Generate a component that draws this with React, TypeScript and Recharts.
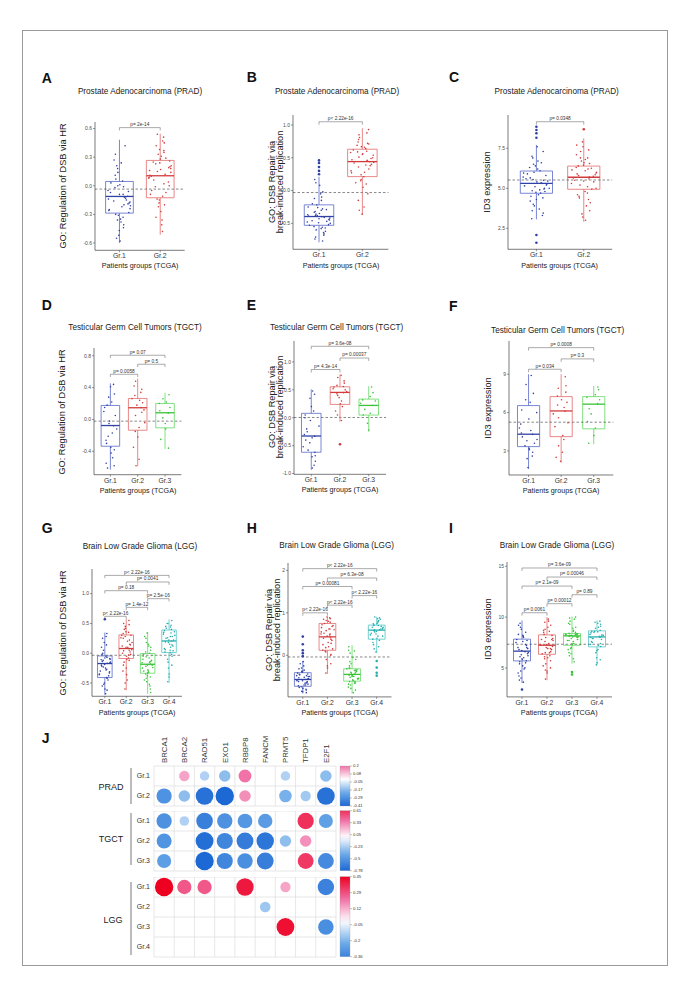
import React from 'react';
import { ComposedChart, Scatter, XAxis, YAxis, ReferenceArea, ReferenceLine } from 'recharts';

const FONT = '"Liberation Sans", Arial, Helvetica, sans-serif';

// ---------- shared labels ----------
const GROUP_LABELS = ['Gr.1', 'Gr.2', 'Gr.3', 'Gr.4'];
const X_TITLE = 'Patients groups (TCGA)';
const TITLE_PRAD = 'Prostate Adenocarcinoma (PRAD)';
const TITLE_TGCT = 'Testicular Germ Cell Tumors (TGCT)';
const TITLE_LGG = 'Brain Low Grade Glioma (LGG)';
const YT_HR = ['GO: Regulation of DSB via HR'];
const YT_BIR = ['GO: DSB Repair via', 'break-induced replication'];
const YT_ID3 = ['ID3 expression'];

// box stats per group: [lower whisker, Q1, median, Q3, upper whisker]
// ---------- A: PRAD / HR ----------
const A_TICKS = [-0.6, -0.3, 0, 0.3, 0.6];
const A_TICK_LABELS = ['-0.6', '-0.3', '0.0', '0.3', '0.6'];
const A_STATS = [[-0.6, -0.287, -0.112, 0.045, 0.483], [-0.514, -0.126, 0.105, 0.266, 0.546]];
const A_GR1 = [-0.12, 0.03, -0.35, -0.21, 0.18, -0.05, -0.44, -0.16, 0.01, -0.28, 0.11, -0.09, -0.52, -0.24, 0.27, -0.13, -0.02, -0.38, 0.07, -0.19, -0.31, 0.42, -0.07, -0.58, -0.15, 0.21, -0.26, -0.01, -0.47, -0.11, 0.33, -0.22, -0.18, -0.36, 0.05, -0.25, -0.09, -0.41, 0.14, -0.2, -0.06, -0.3, 0.24, -0.14, -0.33, 0.0, -0.17, -0.55];
const A_GR2 = [0.12, -0.05, 0.31, 0.21, -0.22, 0.08, 0.45, -0.14, 0.17, 0.26, -0.33, 0.02, 0.38, 0.14, -0.09, 0.51, 0.23, -0.41, 0.06, 0.19, -0.18, 0.29, 0.1, -0.27, 0.35, -0.01, 0.16, -0.48, 0.24, 0.04, 0.42, -0.11, 0.2, 0.33, -0.07, 0.11, 0.28, -0.2, 0.15, 0.47, 0.0, 0.25, -0.36, 0.09, 0.37, -0.15, 0.18, 0.54];
const A_OUT = [[], []];
const A_REF = -0.035;
const A_BRACKETS = [[1, 2, 0.61]];
const A_PVALS = ['p= 2e-14'];

// ---------- B: PRAD / BIR ----------
const B_TICKS = [-0.5, 0, 0.5, 1.0];
const B_TICK_LABELS = ['-0.5', '0.0', '0.5', '1.0'];
const B_STATS = [[-0.79, -0.53, -0.396, -0.218, 0.21], [-0.37, 0.213, 0.442, 0.631, 0.95]];
const B_GR1 = [-0.41, -0.55, -0.3, -0.62, -0.38, -0.2, -0.47, -0.71, -0.35, -0.44, -0.12, -0.58, -0.26, -0.5, -0.39, -0.77, -0.33, -0.05, -0.46, -0.66, -0.22, -0.42, -0.53, 0.08, -0.29, -0.6, -0.37, -0.15, -0.49, -0.68, 0.17, -0.4, -0.45, -0.32, -0.56, -0.25, -0.43, -0.64, -0.36, -0.1, -0.52, -0.74, -0.28, -0.48, -0.02, -0.38, -0.57, 0.12];
const B_GR2 = [0.45, 0.62, 0.28, 0.71, 0.51, 0.12, 0.38, 0.85, 0.56, -0.05, 0.42, 0.66, 0.24, 0.93, 0.47, 0.33, 0.59, -0.25, 0.78, 0.4, 0.17, 0.54, 0.69, 0.05, 0.44, 0.81, 0.3, 0.6, -0.36, 0.49, 0.74, 0.21, 0.5, 0.36, 0.64, 0.27, 0.55, 0.88, 0.15, 0.46, 0.72, -0.15, 0.39, 0.58, 0.1, 0.67, 0.43, -0.3];
const B_OUT = [[0.25, 0.3, 0.36, 0.42, 0.46], []];
const B_REF = -0.03;
const B_BRACKETS = [[1, 2, 1.05]];
const B_PVALS = ['p< 2.22e-16'];

// ---------- C: PRAD / ID3 ----------
const C_TICKS = [2.5, 5.0, 7.5];
const C_TICK_LABELS = ['2.5', '5.0', '7.5'];
const C_STATS = [[3.06, 4.69, 5.31, 6.08, 7.71], [2.91, 4.94, 5.69, 6.39, 8.12]];
const C_GR1 = [5.3, 4.5, 6.2, 5.0, 3.9, 5.7, 4.8, 6.9, 5.4, 3.3, 5.9, 4.7, 5.1, 7.3, 4.2, 5.5, 6.5, 4.9, 3.6, 5.2, 6.0, 4.4, 5.6, 7.6, 5.0, 4.0, 6.3, 5.35, 4.75, 5.8, 3.1, 6.7, 5.45, 4.85, 6.1, 5.15, 4.3, 6.6, 5.55, 3.7, 5.25, 7.0, 4.6, 5.95, 4.95, 6.4, 3.45, 5.65];
const C_GR2 = [5.7, 6.4, 4.8, 6.0, 5.2, 7.1, 4.3, 5.9, 6.6, 3.6, 5.5, 6.2, 7.6, 5.0, 4.6, 6.9, 5.8, 3.0, 6.3, 5.4, 7.9, 4.1, 5.65, 6.1, 4.95, 7.3, 5.3, 3.9, 6.45, 5.75, 4.5, 6.8, 5.85, 6.7, 4.7, 6.15, 5.45, 7.4, 3.4, 5.6, 6.55, 4.4, 5.1, 7.7, 6.25, 3.2, 5.95, 6.9];
const C_OUT = [[8.85, 8.64, 8.44, 8.16, 2.08, 1.6], [8.69]];
const C_REF = 5.52;
const C_BRACKETS = [[1, 2, 9.16]];
const C_PVALS = ['p= 0.0348'];

// ---------- D: TGCT / HR ----------
const D_TICKS = [-0.4, 0, 0.4, 0.8];
const D_TICK_LABELS = ['-0.4', '0.0', '0.4', '0.8'];
const D_STATS = [[-0.63, -0.336, -0.076, 0.176, 0.453], [-0.588, -0.135, 0.147, 0.264, 0.512], [-0.37, -0.105, 0.084, 0.201, 0.336]];
const D_GR1 = [-0.08, 0.15, -0.42, 0.32, -0.21, -0.55, 0.05, -0.3, 0.41, -0.12, -0.61, 0.22, -0.02, -0.38, 0.1, -0.48, 0.28, -0.17, -0.26, 0.44, -0.05, -0.58, 0.18, -0.35];
const D_GR2 = [0.15, 0.26, -0.1, 0.38, 0.05, -0.35, 0.21, 0.48, -0.22, 0.12, 0.3, -0.5, 0.18, -0.04, 0.42, 0.09, -0.58, 0.24, -0.15, 0.34];
const D_GR3 = [0.08, 0.2, -0.12, 0.31, 0.02, -0.25, 0.15, 0.26, -0.05, -0.36, 0.11, 0.22];
const D_OUT = [[], [], []];
const D_REF = -0.021;
const D_BRACKETS = [[1, 2, 0.567], [2, 3, 0.693], [1, 3, 0.806]];
const D_PVALS = ['p= 0.0058', 'p= 0.5', 'p= 0.07'];

// ---------- E: TGCT / BIR ----------
const E_TICKS = [-1.0, -0.5, 0, 0.5, 1.0];
const E_TICK_LABELS = ['-1.0', '-0.5', '0.0', '0.5', '1.0'];
const E_STATS = [[-0.934, -0.618, -0.327, 0.079, 0.507], [-0.071, 0.239, 0.454, 0.554, 0.775], [-0.25, 0.048, 0.221, 0.334, 0.566]];
const E_GR1 = [-0.33, 0.05, -0.7, -0.15, 0.35, -0.52, -0.85, -0.25, 0.2, -0.62, -0.4, 0.48, -0.05, -0.78, -0.3, 0.12, -0.58, -0.9, -0.2, 0.42, -0.45, -0.68, 0.0, -0.36];
const E_GR2 = [0.45, 0.55, 0.3, 0.62, 0.4, 0.12, 0.5, 0.72, 0.25, 0.47, 0.58, -0.05, 0.36, 0.66, 0.52, 0.2, 0.43, 0.76, 0.05, 0.56];
const E_GR3 = [0.22, 0.32, 0.08, 0.45, -0.1, 0.26, 0.55, 0.15, -0.22, 0.3, 0.05, 0.38];
const E_OUT = [[], [-0.475], []];
const E_REF = 0.005;
const E_BRACKETS = [[1, 2, 0.864], [2, 3, 1.07], [1, 3, 1.28]];
const E_PVALS = ['p= 4.3e-14', 'p= 0.00037', 'p= 3.6e-08'];

// ---------- F: TGCT / ID3 ----------
const F_TICKS = [3, 6, 9];
const F_TICK_LABELS = ['3', '6', '9'];
const F_STATS = [[1.59, 3.34, 4.31, 6.55, 9.0], [2.08, 4.12, 6.13, 7.25, 9.0], [3.52, 4.73, 6.66, 7.25, 8.09]];
const F_GR1 = [4.3, 6.2, 3.1, 7.5, 2.4, 4.8, 3.6, 8.2, 5.5, 2.9, 4.1, 6.8, 1.7, 3.9, 5.1, 8.9, 3.4, 4.6, 7.0, 2.6, 3.8, 6.0, 4.4, 3.2];
const F_GR2 = [6.1, 7.3, 4.2, 8.1, 5.6, 2.5, 6.8, 3.4, 7.0, 8.8, 4.9, 6.4, 2.2, 7.6, 5.9, 3.9, 6.6, 2.9, 7.9, 5.2];
const F_GR3 = [6.7, 7.2, 4.8, 7.8, 5.9, 3.6, 7.0, 6.3, 4.2, 8.0, 5.3, 7.4];
const F_OUT = [[], [], []];
const F_REF = 5.25;
const F_BRACKETS = [[1, 2, 9.39], [2, 3, 10.2], [1, 3, 11.08]];
const F_PVALS = ['p= 0.034', 'p= 0.3', 'p= 0.0008'];

// ---------- G: LGG / HR ----------
const G_TICKS = [-0.5, 0, 0.5, 1.0];
const G_TICK_LABELS = ['-0.5', '0.0', '0.5', '1.0'];
const G_STATS = [[-0.7, -0.408, -0.173, -0.045, 0.347], [-0.62, -0.089, 0.079, 0.307, 0.57], [-0.68, -0.336, -0.185, -0.005, 0.358], [-0.5, 0.011, 0.206, 0.39, 0.57]];
const G_GR1 = [-0.17, -0.3, -0.05, -0.45, -0.12, 0.1, -0.38, -0.22, -0.6, -0.09, 0.25, -0.27, -0.5, -0.15, -0.02, -0.41, 0.05, -0.68, -0.2, -0.33, 0.18, -0.1, -0.55, -0.25, 0.33, -0.14, -0.36, -0.07, -0.19, -0.42, 0.0, -0.28, -0.16, -0.52, 0.14, -0.35, -0.08, -0.62, -0.23, 0.28, -0.31, -0.11];
const G_GR2 = [0.08, 0.3, -0.1, 0.18, 0.45, -0.3, 0.02, 0.25, -0.05, 0.55, 0.12, -0.45, 0.36, 0.06, -0.2, 0.22, -0.6, 0.1, 0.4, -0.02, 0.28, -0.12, 0.5, -0.36, 0.15, 0.04, 0.33, -0.08, 0.1, 0.35, -0.15, 0.2, 0.48, -0.5, 0.05, 0.26, -0.25, 0.14, 0.42, -0.03, 0.3, 0.0];
const G_GR3 = [-0.18, -0.05, -0.32, 0.1, -0.22, -0.45, -0.12, 0.25, -0.28, -0.6, -0.02, -0.15, -0.38, 0.05, -0.25, -0.52, 0.18, -0.08, -0.35, -0.2, 0.34, -0.66, -0.1, -0.3, 0.0, -0.42, -0.16, 0.12, -0.2, -0.04, -0.3, 0.15, -0.24, -0.48, -0.14, 0.28, -0.33, -0.55, -0.06, -0.19, -0.4, 0.02];
const G_GR4 = [0.2, 0.38, 0.05, 0.3, -0.15, 0.45, 0.12, 0.25, -0.35, 0.55, 0.02, 0.34, 0.18, -0.05, 0.42, 0.28, -0.48, 0.1, 0.5, 0.22, -0.25, 0.36, 0.08, 0.15, 0.47, -0.1, 0.32, 0.01, 0.22, 0.4, 0.06, 0.28, -0.2, 0.5, 0.14, 0.35, -0.4, 0.04, 0.26, 0.44, -0.02, 0.19];
const G_OUT = [[0.57], [], [], []];
const G_REF = -0.034;
const G_BRACKETS = [[1, 2, 0.62], [2, 3, 0.77], [3, 4, 0.916], [1, 3, 1.05], [2, 4, 1.196], [1, 4, 1.307]];
const G_PVALS = ['p< 2.22e-16', 'p= 1.4e-12', 'p= 2.5e-16', 'p= 0.18', 'p= 0.0041', 'p< 2.22e-16'];

// ---------- H: LGG / BIR ----------
const H_TICKS = [0, 1, 2];
const H_TICK_LABELS = ['0', '1', '2'];
const H_STATS = [[-0.9, -0.73, -0.57, -0.41, -0.135], [-0.436, 0.118, 0.434, 0.749, 0.907], [-0.9, -0.609, -0.45, -0.318, 0.237], [0.062, 0.379, 0.592, 0.711, 0.907]];
const H_GR1 = [-0.57, -0.42, -0.7, -0.5, -0.85, -0.32, -0.62, -0.45, -0.78, -0.55, -0.2, -0.66, -0.38, -0.88, -0.6, -0.48, -0.74, -0.25, -0.53, -0.68, -0.4, -0.82, -0.58, -0.15, -0.64, -0.46, -0.76, -0.35, -0.6, -0.44, -0.72, -0.52, -0.8, -0.3, -0.65, -0.48, -0.86, -0.56, -0.38, -0.7, -0.5, -0.62];
const H_GR2 = [0.43, 0.75, 0.2, 0.6, -0.1, 0.85, 0.35, 0.52, -0.3, 0.7, 0.12, 0.48, 0.9, 0.02, 0.65, 0.28, -0.42, 0.8, 0.4, 0.15, 0.58, -0.2, 0.72, 0.3, 0.88, 0.08, 0.5, 0.62, 0.45, 0.78, 0.25, 0.62, 0.0, 0.82, 0.38, 0.55, -0.25, 0.68, 0.18, 0.5, 0.86, 0.1];
const H_GR3 = [-0.45, -0.32, -0.6, -0.1, -0.52, -0.75, -0.38, 0.05, -0.48, -0.65, -0.25, -0.88, -0.42, -0.55, 0.2, -0.35, -0.7, -0.5, -0.15, -0.62, -0.4, -0.82, -0.3, -0.58, 0.1, -0.47, -0.68, -0.36, -0.46, -0.34, -0.62, -0.05, -0.54, -0.78, -0.4, 0.12, -0.5, -0.66, -0.2, -0.44, -0.56, -0.3];
const H_GR4 = [0.6, 0.72, 0.45, 0.85, 0.55, 0.3, 0.68, 0.9, 0.4, 0.62, 0.15, 0.78, 0.5, 0.66, 0.25, 0.82, 0.58, 0.7, 0.38, 0.88, 0.08, 0.64, 0.52, 0.75, 0.62, 0.7, 0.48, 0.8, 0.56, 0.35, 0.66, 0.86, 0.45, 0.6, 0.2, 0.74];
const H_OUT = [[0.44, 0.26, 0.12, 0.05, -0.02], [], [], [-0.135, -0.29, -0.41, -0.48]];
const H_REF = -0.04;
const H_BRACKETS = [[1, 2, 1.0], [2, 3, 1.18], [3, 4, 1.405], [1, 3, 1.62], [2, 4, 1.82], [1, 4, 2.04]];
const H_PVALS = ['p< 2.22e-16', 'p< 2.22e-16', 'p< 2.22e-16', 'p= 0.00081', 'p= 6.3e-08', 'p< 2.22e-16'];

// ---------- I: LGG / ID3 ----------
const I_TICKS = [5, 10, 15];
const I_TICK_LABELS = ['5', '10', '15'];
const I_STATS = [[3.52, 5.69, 6.65, 7.83, 9.67], [3.79, 6.34, 7.23, 8.25, 10.0], [5.43, 7.23, 8.15, 8.38, 10.07], [5.26, 7.07, 8.05, 8.65, 9.67]];
const I_GR1 = [6.6, 7.8, 5.2, 8.5, 6.1, 4.5, 7.2, 9.4, 5.8, 6.9, 3.8, 8.1, 6.3, 5.5, 7.5, 4.9, 9.0, 6.0, 7.0, 5.0, 8.8, 6.5, 4.2, 7.6, 5.7, 6.8, 8.3, 3.6, 6.7, 7.7, 5.4, 8.2, 6.2, 4.7, 7.3, 9.2, 5.9, 7.0, 4.0, 8.0, 6.4, 5.6];
const I_GR2 = [7.2, 8.3, 6.0, 9.2, 7.6, 5.2, 6.8, 8.8, 4.5, 7.9, 6.4, 9.8, 7.0, 5.7, 8.5, 6.6, 3.9, 7.4, 9.5, 6.2, 8.0, 5.0, 7.8, 6.9, 8.6, 4.8, 7.3, 6.5, 7.3, 8.2, 6.1, 9.0, 7.7, 5.4, 6.9, 8.7, 4.7, 7.8, 6.5, 9.6, 7.1, 5.9];
const I_GR3 = [8.15, 8.4, 7.6, 9.0, 8.2, 6.8, 8.3, 9.6, 7.3, 8.0, 6.2, 8.6, 7.9, 10.0, 8.25, 5.6, 8.1, 7.4, 9.3, 8.35, 7.0, 8.5, 6.5, 8.05, 9.8, 7.7, 8.3, 5.9, 8.2, 8.35, 7.7, 8.9, 8.1, 6.9, 8.3, 9.4, 7.4, 8.05, 6.4, 8.7, 7.8, 9.9];
const I_GR4 = [8.0, 8.6, 7.2, 9.1, 6.5, 8.3, 7.8, 9.5, 5.5, 8.7, 7.5, 8.1, 6.0, 9.3, 8.45, 7.1, 8.9, 6.8, 7.9, 9.6, 5.3, 8.2, 7.6, 8.55, 8.1, 8.5, 7.3, 9.0, 6.7, 8.25, 7.9, 9.4, 5.8, 8.6, 7.4, 8.0];
const I_OUT = [[2.87], [], [4.6, 4.35], []];
const I_REF = 7.33;
const I_BRACKETS = [[1, 2, 10.43], [2, 3, 11.32], [3, 4, 12.2], [1, 3, 13.05], [2, 4, 13.94], [1, 4, 14.83]];
const I_PVALS = ['p= 0.0061', 'p= 0.00012', 'p= 0.89', 'p= 2.1e-09', 'p= 0.00046', 'p= 3.6e-09'];

// ---------- J: correlation matrix ----------
const GENES = ['BRCA1', 'BRCA2', 'RAD51', 'EXO1', 'RBBP8', 'FANCM', 'PRMT5', 'TFDP1', 'E2F1'];
const PRAD_CORR = [
  [null, 0.13, -0.11, -0.16, 0.2, null, -0.11, null, -0.16],
  [-0.28, -0.16, -0.38, -0.41, 0.16, null, -0.19, -0.13, -0.38],
];
const TGCT_CORR = [
  [-0.54, -0.21, -0.64, -0.54, -0.5, -0.48, null, 0.61, -0.45],
  [-0.52, null, -0.74, -0.6, -0.66, -0.7, -0.3, 0.3, null],
  [-0.46, null, -0.78, -0.6, -0.55, -0.65, null, 0.58, -0.58],
];
const LGG_CORR = [
  [0.45, 0.27, 0.27, null, 0.4, null, 0.14, null, -0.36],
  [null, null, null, null, null, -0.15, null, null, null],
  [null, null, null, null, null, null, 0.42, null, -0.32],
  [null, null, null, null, null, null, null, null, null],
];
const PRAD_CB = ['0.2', '0.08', '-0.05', '-0.17', '-0.29', '-0.41'];
const TGCT_CB = ['0.61', '0.33', '0.05', '-0.23', '-0.5', '-0.78'];
const LGG_CB = ['0.45', '0.29', '0.12', '-0.05', '-0.2', '-0.36'];

// ---------- styling ----------
const DOT = ['#3041A6', '#D23B3B', '#38C338', '#27AEAE'];
const BOXC = ['#5868C8', '#E26A6A', '#62D862', '#52C6C6'];
const JITTER = [0.12, -0.21, 0.05, 0.27, -0.08, -0.28, 0.18, -0.14, 0.01, 0.23, -0.19, 0.09, -0.03, 0.26, -0.24, 0.15, -0.11, 0.07, -0.16, 0.21, -0.05, 0.25, -0.22, 0.03, 0.17, -0.12, -0.26, 0.1, -0.01, 0.2, -0.18, 0.06, 0.24, -0.09, 0.14, -0.25, 0.0, 0.19, -0.07, 0.11, 0.22, -0.17, 0.08, -0.27, 0.16, -0.04, 0.26, -0.13, 0.02, -0.2];

const PANELS = [
  { letter: 'A', title: TITLE_PRAD, yTitle: YT_HR, stats: A_STATS, points: [A_GR1, A_GR2], out: A_OUT, ref: A_REF, brackets: A_BRACKETS, pvals: A_PVALS, ticks: A_TICKS, tickLabels: A_TICK_LABELS, domain: [-0.677, 0.669],
    lay: { l: 95.3, r: 185, t: 121.7, b: 250, lx: 41.7, ly: 78, tx: 140, ty: 91.7, yx: 63.3 } },
  { letter: 'B', title: TITLE_PRAD, yTitle: YT_BIR, stats: B_STATS, points: [B_GR1, B_GR2], out: B_OUT, ref: B_REF, brackets: B_BRACKETS, pvals: B_PVALS, ticks: B_TICKS, tickLabels: B_TICK_LABELS, domain: [-0.896, 1.153],
    lay: { l: 293.3, r: 388.7, t: 115, b: 249.3, lx: 246.7, ly: 77, tx: 337, ty: 91.7, yx: 275.5 } },
  { letter: 'C', title: TITLE_PRAD, yTitle: YT_ID3, stats: C_STATS, points: [C_GR1, C_GR2], out: C_OUT, ref: C_REF, brackets: C_BRACKETS, pvals: C_PVALS, ticks: C_TICKS, tickLabels: C_TICK_LABELS, domain: [1.19, 9.58],
    lay: { l: 507.5, r: 611.7, t: 115, b: 249.3, lx: 449, ly: 77, tx: 556.7, ty: 91.7, yx: 487.3 } },
  { letter: 'D', title: TITLE_TGCT, yTitle: YT_HR, stats: D_STATS, points: [D_GR1, D_GR2, D_GR3], out: D_OUT, ref: D_REF, brackets: D_BRACKETS, pvals: D_PVALS, ticks: D_TICKS, tickLabels: D_TICK_LABELS, domain: [-0.693, 0.897],
    lay: { l: 94.3, r: 181.7, t: 348.3, b: 475, lx: 41.7, ly: 305, tx: 135, ty: 328, yx: 61.7 } },
  { letter: 'E', title: TITLE_TGCT, yTitle: YT_BIR, stats: E_STATS, points: [E_GR1, E_GR2, E_GR3], out: E_OUT, ref: E_REF, brackets: E_BRACKETS, pvals: E_PVALS, ticks: E_TICKS, tickLabels: E_TICK_LABELS, domain: [-1.013, 1.375],
    lay: { l: 294, r: 386, t: 340.7, b: 474, lx: 246.7, ly: 305, tx: 336.7, ty: 328.3, yx: 276 } },
  { letter: 'F', title: TITLE_TGCT, yTitle: YT_ID3, stats: F_STATS, points: [F_GR1, F_GR2, F_GR3], out: F_OUT, ref: F_REF, brackets: F_BRACKETS, pvals: F_PVALS, ticks: F_TICKS, tickLabels: F_TICK_LABELS, domain: [1.12, 11.6],
    lay: { l: 509, r: 613.3, t: 341, b: 475, lx: 449, ly: 306, tx: 557.7, ty: 331, yx: 488.3 } },
  { letter: 'G', title: TITLE_LGG, yTitle: YT_HR, stats: G_STATS, points: [G_GR1, G_GR2, G_GR3, G_GR4], out: G_OUT, ref: G_REF, brackets: G_BRACKETS, pvals: G_PVALS, ticks: G_TICKS, tickLabels: G_TICK_LABELS, domain: [-0.723, 1.414],
    lay: { l: 92.2, r: 182.1, t: 569.3, b: 696.6, lx: 41.7, ly: 528, tx: 140, ty: 546.7, yx: 63.3 } },
  { letter: 'H', title: TITLE_LGG, yTitle: YT_BIR, stats: H_STATS, points: [H_GR1, H_GR2, H_GR3, H_GR4], out: H_OUT, ref: H_REF, brackets: H_BRACKETS, pvals: H_PVALS, ticks: H_TICKS, tickLabels: H_TICK_LABELS, domain: [-0.98, 2.173],
    lay: { l: 288, r: 391.5, t: 562.7, b: 696.6, lx: 246.7, ly: 528, tx: 336.7, ty: 546, yx: 272.7 } },
  { letter: 'I', title: TITLE_LGG, yTitle: YT_ID3, stats: I_STATS, points: [I_GR1, I_GR2, I_GR3, I_GR4], out: I_OUT, ref: I_REF, brackets: I_BRACKETS, pvals: I_PVALS, ticks: I_TICKS, tickLabels: I_TICK_LABELS, domain: [2.15, 15.42],
    lay: { l: 506.7, r: 611.7, t: 561.7, b: 696.6, lx: 449, ly: 528, tx: 557, ty: 546, yx: 488.3 } },
];

function tickFmt(ticks, labels) {
  return (v) => {
    const i = ticks.findIndex((t) => Math.abs(t - v) < 1e-9);
    return i >= 0 ? labels[i] : '';
  };
}

function Txt({ x, y, size, children, bold, rotate, lines, lh }) {
  return (
    <div
      style={{
        position: 'absolute', left: x, top: y, fontSize: size, fontWeight: bold ? 'bold' : 'normal',
        lineHeight: lh ? `${lh}px` : '1', whiteSpace: 'nowrap', textAlign: 'center', color: '#222',
        transform: `translate(-50%, -50%)${rotate ? ' rotate(-90deg)' : ''}`,
      }}
    >
      {lines ? lines.map((l, i) => <div key={i}>{l}</div>) : children}
    </div>
  );
}

function BoxPanel({ p }) {
  const { lay } = p;
  const n = p.stats.length;
  const plotW = lay.r - lay.l;
  const plotH = lay.b - lay.t;
  const ML = 40, MT = 10, MR = 6, XH = 22;
  const span = p.domain[1] - p.domain[0];
  const tip = span * 0.022;
  const hw = 0.34;
  const xTicks = p.stats.map((_, i) => i + 1);
  const refs = [];
  refs.push(<ReferenceLine key="ref" y={p.ref} stroke="#555" strokeDasharray="2.5 2" strokeWidth={0.7} ifOverflow="visible" />);
  p.stats.forEach((s, i) => {
    const x = i + 1;
    const [lo, q1, med, q3, hi] = s;
    const c = BOXC[i];
    refs.push(<ReferenceLine key={`wu${i}`} segment={[{ x, y: q3 }, { x, y: hi }]} stroke={c} strokeWidth={0.8} ifOverflow="visible" />);
    refs.push(<ReferenceLine key={`wl${i}`} segment={[{ x, y: lo }, { x, y: q1 }]} stroke={c} strokeWidth={0.8} ifOverflow="visible" />);
    refs.push(<ReferenceArea key={`bx${i}`} x1={x - hw} x2={x + hw} y1={q1} y2={q3} stroke={c} strokeWidth={0.8} fill="none" fillOpacity={0} ifOverflow="visible" />);
    refs.push(<ReferenceLine key={`md${i}`} segment={[{ x: x - hw, y: med }, { x: x + hw, y: med }]} stroke={DOT[i]} strokeWidth={1.3} ifOverflow="visible" />);
  });
  p.brackets.forEach(([g1, g2, y], k) => {
    refs.push(<ReferenceLine key={`bh${k}`} segment={[{ x: g1, y }, { x: g2, y }]} stroke="#555" strokeWidth={0.5} ifOverflow="visible" />);
    refs.push(<ReferenceLine key={`ba${k}`} segment={[{ x: g1, y }, { x: g1, y: y - tip }]} stroke="#555" strokeWidth={0.5} ifOverflow="visible" />);
    refs.push(<ReferenceLine key={`bb${k}`} segment={[{ x: g2, y }, { x: g2, y: y - tip }]} stroke="#555" strokeWidth={0.5} ifOverflow="visible" />);
  });
  const labelData = p.brackets.map(([g1, g2, y], k) => ({ x: (g1 + g2) / 2, y, label: p.pvals[k] }));
  return (
    <div style={{ position: 'absolute', left: lay.l - ML, top: lay.t - MT }}>
      <ComposedChart width={plotW + ML + MR} height={plotH + MT + XH} margin={{ top: MT, right: MR, bottom: 0, left: 0 }}>
        <XAxis type="number" dataKey="x" domain={[0.4, n + 0.6]} ticks={xTicks} allowDataOverflow height={XH} interval={0}
          tick={{ fontSize: 6.8, fill: '#333' }} tickFormatter={(v) => GROUP_LABELS[v - 1]} tickSize={2} tickMargin={1}
          axisLine={{ stroke: '#222', strokeWidth: 0.6 }} tickLine={{ stroke: '#333', strokeWidth: 0.5 }} />
        <YAxis type="number" dataKey="y" domain={p.domain} ticks={p.ticks} allowDataOverflow width={ML} interval={0}
          tick={{ fontSize: 5, fill: '#4d4d4d' }} tickFormatter={tickFmt(p.ticks, p.tickLabels)} tickSize={2} tickMargin={1}
          axisLine={{ stroke: '#222', strokeWidth: 0.6 }} tickLine={{ stroke: '#333', strokeWidth: 0.5 }} />
        {refs}
        {p.points.map((vals, i) => {
          const [, q1, , q3] = p.stats[i];
          const data = vals.map((v, k) => ({ x: i + 1 + JITTER[k % JITTER.length] * (v >= q1 && v <= q3 ? 1 : 0.55), y: v }));
          return (
            <Scatter key={`pt${i}`} data={data} dataKey="y" isAnimationActive={false}
              shape={(sp) => <circle cx={sp.cx} cy={sp.cy} r={0.8} fill={DOT[i]} />} />
          );
        })}
        {p.out.map((vals, i) => (
          <Scatter key={`ou${i}`} data={vals.map((v) => ({ x: i + 1, y: v }))} dataKey="y" isAnimationActive={false}
            shape={(sp) => <circle cx={sp.cx} cy={sp.cy} r={1.3} fill={DOT[i]} />} />
        ))}
        <Scatter data={labelData} dataKey="y" isAnimationActive={false}
          shape={(sp) => (
            <text x={sp.cx} y={sp.cy - 1.6} textAnchor="middle" fontSize={4.8} fill="#333">{sp.payload.label}</text>
          )} />
      </ComposedChart>
    </div>
  );
}

const PAL = [
  [-1, [28, 104, 212]],
  [-0.5, [108, 170, 232]],
  [0, [255, 255, 255]],
  [0.5, [240, 110, 165]],
  [1, [238, 0, 32]],
];
function palette(t) {
  const v = Math.max(-1, Math.min(1, t));
  for (let k = 0; k < PAL.length - 1; k++) {
    const [a, ca] = PAL[k];
    const [b, cb] = PAL[k + 1];
    if (v >= a && v <= b) {
      const f = (v - a) / (b - a);
      const c = ca.map((x, j) => Math.round(x + (cb[j] - x) * f));
      return `rgb(${c[0]},${c[1]},${c[2]})`;
    }
  }
  return '#fff';
}

const J_LEFT = 154;
const J_CELL_W = 182 / 9;
const J_CELL_H = 20;

function GeneTick(props) {
  const { x, y, payload } = props;
  const xx = x + 2.8;
  return (
    <text x={xx} y={y} transform={`rotate(-90 ${xx} ${y})`} fontSize={7.8} fill="#333" textAnchor="start">
      {GENES[payload.value - 1]}
    </text>
  );
}

function CorrBlock({ matrix, cb, top, showGenes }) {
  const n = matrix.length;
  const plotW = J_CELL_W * 9;
  const plotH = n * J_CELL_H;
  const XH = showGenes ? 40 : 0;
  const YW = 30;
  const vals = cb.map(Number);
  const maxAbs = Math.max(Math.abs(vals[0]), Math.abs(vals[vals.length - 1]));
  const data = [];
  matrix.forEach((row, i) => row.forEach((v, j) => { if (v !== null) data.push({ x: j + 1, y: i + 1, v }); }));
  const lines = [];
  for (let k = 0; k <= 9; k++) lines.push(<ReferenceLine key={`gx${k}`} x={k + 0.5} stroke="#d6d6d6" strokeWidth={0.6} ifOverflow="visible" />);
  for (let k = 0; k <= n; k++) lines.push(<ReferenceLine key={`gy${k}`} y={k + 0.5} stroke="#d6d6d6" strokeWidth={0.6} ifOverflow="visible" />);
  return (
    <div style={{ position: 'absolute', left: J_LEFT - YW, top: top - XH }}>
      <ComposedChart width={plotW + YW + 1} height={plotH + XH + 1} margin={{ top: 0, right: 1, bottom: 1, left: 0 }}>
        <XAxis type="number" dataKey="x" domain={[0.5, 9.5]} ticks={[1, 2, 3, 4, 5, 6, 7, 8, 9]} orientation="top"
          height={XH} hide={!showGenes} axisLine={false} tickLine={false} tickSize={0} tickMargin={3} interval={0}
          tick={<GeneTick />} allowDataOverflow />
        <YAxis type="number" dataKey="y" domain={[0.5, n + 0.5]} reversed ticks={matrix.map((_, i) => i + 1)} width={YW}
          axisLine={false} tickLine={false} tickSize={0} tickMargin={4} interval={0}
          tick={{ fontSize: 7, fill: '#333' }} tickFormatter={(v) => GROUP_LABELS[v - 1]} allowDataOverflow />
        {lines}
        <Scatter data={data} dataKey="y" isAnimationActive={false}
          shape={(sp) => (
            <circle cx={sp.cx} cy={sp.cy} r={9.2 * Math.sqrt(Math.abs(sp.payload.v) / maxAbs)} fill={palette(sp.payload.v / maxAbs)} />
          )} />
      </ComposedChart>
    </div>
  );
}

function Colorbar({ labels, x, y, h, id }) {
  const vals = labels.map(Number);
  const max = vals[0], min = vals[vals.length - 1];
  const maxAbs = Math.max(Math.abs(max), Math.abs(min));
  const stops = [];
  for (let k = 0; k <= 12; k++) {
    const v = max - ((max - min) * k) / 12;
    stops.push(<stop key={k} offset={`${(k / 12) * 100}%`} stopColor={palette(v / maxAbs)} />);
  }
  return (
    <g>
      <defs>
        <linearGradient id={id} x1="0" y1="0" x2="0" y2="1">{stops}</linearGradient>
      </defs>
      <rect x={x} y={y} width={10} height={h} fill={`url(#${id})`} stroke="#9a9a9a" strokeWidth={0.3} />
      {labels.map((l, k) => {
        const yy = y + (h * k) / (labels.length - 1);
        return (
          <g key={k}>
            <line x1={x + 10} x2={x + 11.8} y1={yy} y2={yy} stroke="#555" strokeWidth={0.4} />
            <text x={x + 13} y={yy + 1.4} fontSize={4.2} fill="#333">{l}</text>
          </g>
        );
      })}
    </g>
  );
}

export default function App() {
  return (
    <div style={{ position: 'absolute', left: 0, top: 0, width: 691, height: 990, background: '#fff', fontFamily: FONT, overflow: 'hidden' }}>
      <svg width={691} height={990} style={{ position: 'absolute', left: 0, top: 0 }}>
        <rect x={22.5} y={30.5} width={645} height={935} fill="none" stroke="#9a9a9a" strokeWidth={1} />
      </svg>
      {PANELS.map((p) => (
        <React.Fragment key={p.letter}>
          <BoxPanel p={p} />
          <div style={{ position: 'absolute', left: p.lay.lx, top: p.lay.ly, transform: 'translateY(-50%)', fontSize: 14, fontWeight: 'bold', lineHeight: '1', color: '#111' }}>{p.letter}</div>
          <Txt x={p.lay.tx} y={p.lay.ty} size={8.2}>{p.title}</Txt>
          <Txt x={p.lay.yx} y={(p.lay.t + p.lay.b) / 2} size={9.2} rotate lines={p.yTitle} lh={8.4} />
          <Txt x={(p.lay.l + p.lay.r) / 2} y={p.lay.b + 16.3} size={7.2}>{X_TITLE}</Txt>
        </React.Fragment>
      ))}
      <div style={{ position: 'absolute', left: 41.7, top: 738, transform: 'translateY(-50%)', fontSize: 14, fontWeight: 'bold', lineHeight: '1', color: '#111' }}>J</div>
      <CorrBlock matrix={PRAD_CORR} cb={PRAD_CB} top={766} showGenes />
      <CorrBlock matrix={TGCT_CORR} cb={TGCT_CB} top={810.5} showGenes={false} />
      <CorrBlock matrix={LGG_CORR} cb={LGG_CB} top={876.7} showGenes={false} />
      <Txt x={111} y={787} size={9}>PRAD</Txt>
      <Txt x={111} y={838.5} size={9}>TGCT</Txt>
      <Txt x={113} y={920} size={9}>LGG</Txt>
      <svg width={691} height={990} style={{ position: 'absolute', left: 0, top: 0, pointerEvents: 'none' }}>
        <line x1={131} x2={131} y1={768} y2={804} stroke="#555" strokeWidth={0.8} />
        <line x1={131} x2={131} y1={813} y2={865} stroke="#555" strokeWidth={0.8} />
        <line x1={131} x2={131} y1={882} y2={955} stroke="#555" strokeWidth={0.8} />
        <Colorbar labels={PRAD_CB} x={340} y={766} h={40} id="cbp" />
        <Colorbar labels={TGCT_CB} x={340} y={810.7} h={60} id="cbt" />
        <Colorbar labels={LGG_CB} x={340} y={876.7} h={80} id="cbl" />
      </svg>
    </div>
  );
}
